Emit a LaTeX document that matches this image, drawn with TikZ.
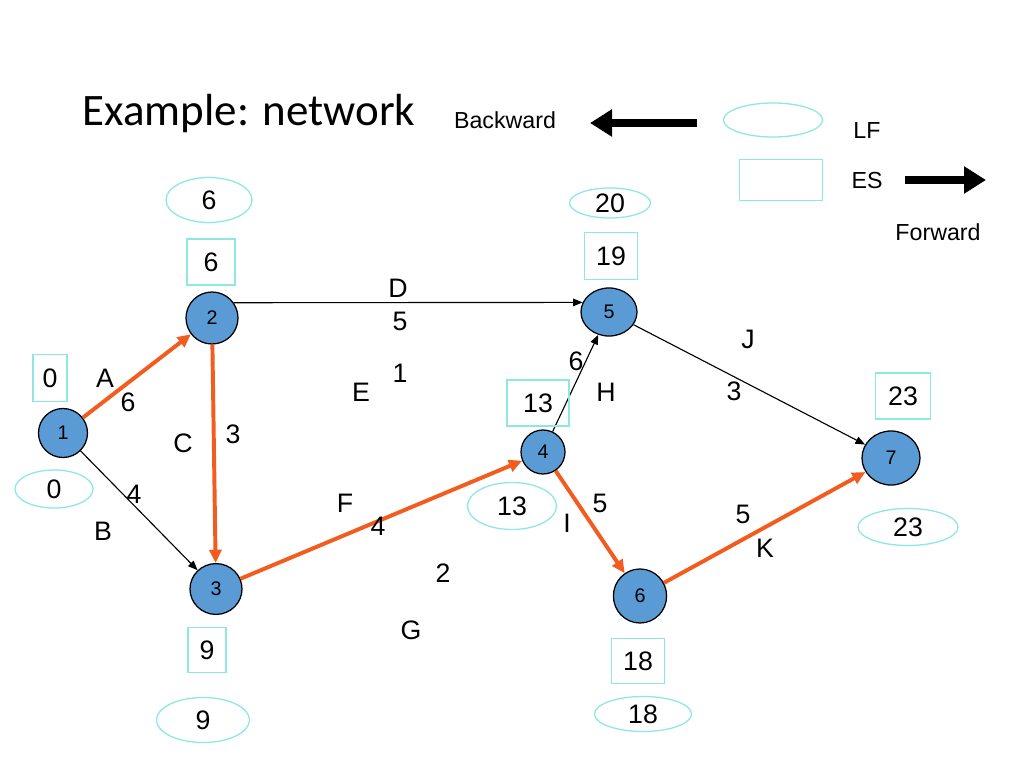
\documentclass[tikz,border=0pt]{standalone}
\usepackage{fontspec}
\setmainfont{Liberation Sans}
\newfontfamily\titlefont{Carlito}
\usetikzlibrary{shapes.geometric,arrows.meta}
\definecolor{crit}{RGB}{242,92,30}
\definecolor{nodeblue}{RGB}{91,155,213}
\definecolor{cyanc}{RGB}{140,232,225}
\tikzset{
  vert/.style={ellipse,draw=black,line width=0.9pt,fill=nodeblue,inner sep=0pt,font=\fontsize{14}{14}\selectfont},
  lf/.style={ellipse,draw=cyanc,line width=0.9pt,inner sep=0pt,font=\fontsize{19}{19}\selectfont},
  es/.style={rectangle,draw=cyanc,line width=0.9pt,inner sep=0pt,font=\fontsize{19}{19}\selectfont},
  lbl/.style={inner sep=0pt,font=\fontsize{19}{19}\selectfont},
  leg/.style={inner sep=0pt,font=\fontsize{16.5}{16.5}\selectfont},
  critarrow/.style={draw=crit,line width=2.8pt,-{Triangle[length=0.33cm,width=0.3cm]}},
  normarrow/.style={draw=black,line width=0.8pt,-{Triangle[length=0.24cm,width=0.19cm]}},
  bigarrow/.style={draw=black,line width=5.8pt,-{Triangle[length=0.55cm,width=0.65cm]}}
}
\begin{document}
\begin{tikzpicture}[x=0.025cm,y=-0.025cm]
\useasboundingbox[fill=white] (0,0) rectangle (1024,768);

% title and legend
\node[inner sep=0pt,font=\titlefont\fontsize{32}{32}\selectfont] (title) at (249,114) {Example: network};
\node[leg] (back) at (505,120) {Backward};
\coordinate (bs) at (697,123);
\coordinate (be) at (590,123);
\draw[bigarrow] (bs) -- (be);
\node[lf,minimum width=2.475cm,minimum height=0.85cm] (legE) at (773,120) {};
\node[es,minimum width=2.075cm,minimum height=1.025cm] (legB) at (781,180) {};
\node[leg] (lfT) at (867,131) {LF};
\node[leg] (esT) at (867,181) {ES};
\coordinate (fs) at (905,180);
\coordinate (fe) at (986,180);
\draw[bigarrow] (fs) -- (fe);
\node[leg] (fwd) at (938,232) {Forward};

% vertices
\node[vert,minimum width=1.225cm,minimum height=1.225cm] (n1) at (63,433) {1};
\node[vert,minimum width=1.3cm,minimum height=1.3cm] (n2) at (212,318) {2};
\node[vert,minimum width=1.3cm,minimum height=1.27cm] (n3) at (216,589) {3};
\node[vert,minimum width=1.1cm,minimum height=1.1cm] (n4) at (543,452) {4};
\node[vert,minimum width=1.4cm,minimum height=1.2cm] (n5) at (609,312) {5};
\node[vert,minimum width=1.33cm,minimum height=1.35cm] (n6) at (640,596) {6};
\node[vert,minimum width=1.45cm,minimum height=1.35cm] (n7) at (891,458) {7};

% edges
\draw[critarrow] (n1) -- (n2);
\draw[normarrow] (n1) -- (n3);
\draw[critarrow] (n2) -- (n3);
\draw[normarrow] (n2.35) -- (n5.160);
\draw[critarrow] (n3) -- (n4);
\draw[normarrow] (n4) -- (n5);
\draw[critarrow] (n4) -- (n6);
\draw[normarrow] (n5) -- (n7);
\draw[critarrow] (n6) -- (n7);

% ES boxes
\node[es,minimum width=0.85cm,minimum height=1.175cm] (b1) at (50,378) {0};
\node[es,minimum width=1.2cm,minimum height=1.15cm] (b2) at (211,262) {6\hspace{0.3cm}};
\node[es,minimum width=0.95cm,minimum height=1.125cm] (b3) at (207,650) {9};
\node[es,minimum width=1.55cm,minimum height=1.15cm] (b4) at (538,403) {13\hspace{0.25cm}};
\node[es,minimum width=1.325cm,minimum height=1.175cm] (b5) at (611,256) {19};
\node[es,minimum width=1.325cm,minimum height=1.125cm] (b6) at (638,661) {18};
\node[es,minimum width=1.375cm,minimum height=1.15cm] (b7) at (903,396) {23};

% LF ellipses
\node[lf,minimum width=1.95cm,minimum height=0.95cm] (e1) at (54,489) {0};
\node[lf,minimum width=2.15cm,minimum height=1.125cm] (e2) at (209,200) {6};
\node[lf,minimum width=2.325cm,minimum height=1.125cm] (e3) at (203,720) {9};
\node[lf,minimum width=2.225cm,minimum height=1.175cm] (e4) at (512,506) {13};
\node[lf,minimum width=2.025cm,minimum height=0.75cm] (e5) at (610,203) {20};
\node[lf,minimum width=2.425cm,minimum height=0.875cm] (e6) at (643,714) {18};
\node[lf,minimum width=2.5cm,minimum height=0.925cm] (e7) at (908,527) {23};

% activity labels
\node[lbl] (lA) at (105,378) {A};
\node[lbl] (dA) at (128,402) {6};
\node[lbl] (lC) at (183,443) {C};
\node[lbl] (dC) at (233,434) {3};
\node[lbl] (dB) at (134,494) {4};
\node[lbl] (lB) at (103,531) {B};
\node[lbl] (lD) at (398,288) {D};
\node[lbl] (dD) at (400,321) {5};
\node[lbl] (lE) at (361,392) {E};
\node[lbl] (dE) at (400,373) {1};
\node[lbl] (lF) at (345,503) {F};
\node[lbl] (dF) at (378,526) {4};
\node[lbl] (dG) at (443,573) {2};
\node[lbl] (lG) at (411,630) {G};
\node[lbl] (dH) at (576,361) {6};
\node[lbl] (lH) at (606,392) {H};
\node[lbl] (dI) at (600,503) {5};
\node[lbl] (lI) at (567,523) {I};
\node[lbl] (lJ) at (748,339) {J};
\node[lbl] (dJ) at (734,391) {3};
\node[lbl] (dK) at (743,514) {5};
\node[lbl] (lK) at (765,548) {K};
\end{tikzpicture}
\end{document}
